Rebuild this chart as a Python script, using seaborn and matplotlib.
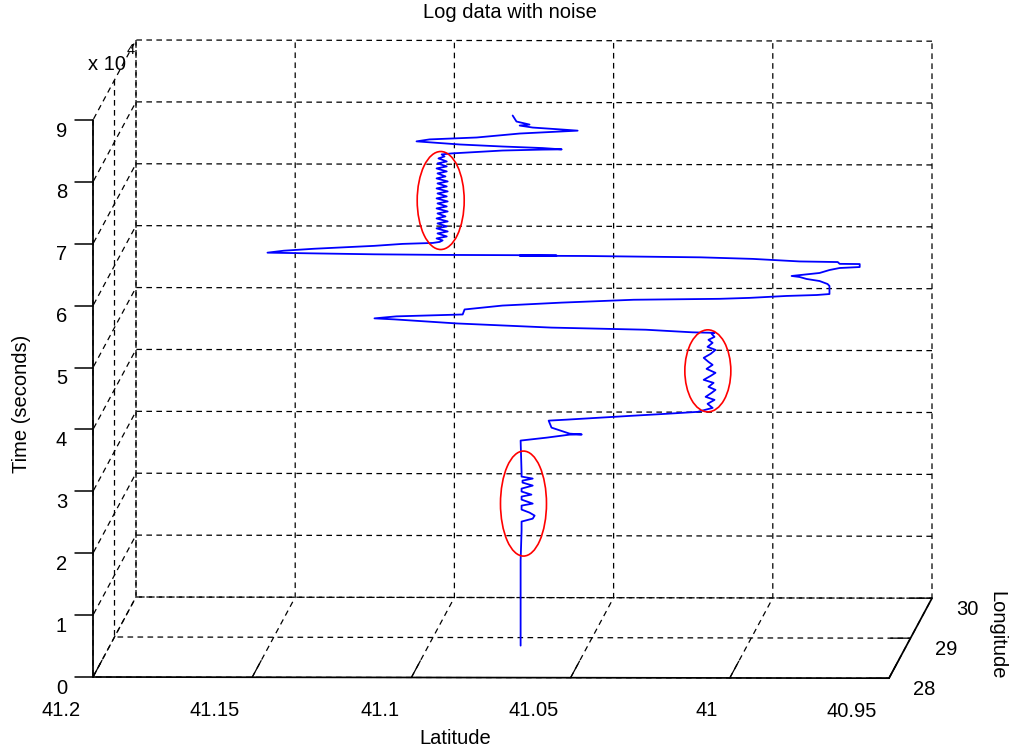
import numpy as np
import matplotlib
matplotlib.use("Agg")
import matplotlib.pyplot as plt
import matplotlib.transforms as mtransforms
from matplotlib.patches import Ellipse
from matplotlib.lines import Line2D
import seaborn as sns
from mpl_toolkits.mplot3d import proj3d

# ---------------- data ----------------
latitude = [
    41.0711, 41.0711, 41.0711, 41.0708,
    41.0708, 41.0673, 41.0667, 41.0683, 41.0708, 41.0708, 41.0673, 41.0708, 41.0708, 41.0677,
    41.0708, 41.0708, 41.0673, 41.0705, 41.0705, 41.0673, 41.0708, 41.0708,
    41.0711, 41.0629, 41.0557, 41.0519, 41.0557, 41.0614, 41.0623, 41.0567, 41.0463, 41.0359,
    41.0253, 41.0155,
    41.0108, 41.0124, 41.0102, 41.0130, 41.0111, 41.0099, 41.0121, 41.0105, 41.0136, 41.0114,
    41.0099, 41.0127, 41.0108, 41.0121, 41.0136, 41.0114, 41.0099, 41.0124, 41.0108, 41.0121,
    41.0102, 41.0111, 41.0102,
    41.0171, 41.0318, 41.0469, 41.0614, 41.0761, 41.0912, 41.1107, 41.1170,
    41.1101, 41.0893, 41.0887, 41.0768, 41.0582, 41.0356, 41.0086, 40.9992, 40.9876, 40.9781,
    40.9741,
    40.9741, 40.9747, 40.9772, 40.9813, 40.9835, 40.9860, 40.9772, 40.9741, 40.9709, 40.9646,
    40.9646, 40.9709, 40.9715, 40.9835, 40.9982, 41.0086,
    41.0146, 41.0306, 41.0463, 41.0507, 41.0714, 41.0620, 41.0598, 41.0636, 41.0683, 41.0956,
    41.1170, 41.1405, 41.1506,
    41.1455, 41.1361, 41.1170, 41.1082, 41.0987, 41.0965,
    41.0956, 41.0975, 41.0943, 41.0972, 41.0940, 41.0975, 41.0943, 41.0972, 41.0940, 41.0975,
    41.0947, 41.0972, 41.0940, 41.0975, 41.0943, 41.0972, 41.0940, 41.0975, 41.0943, 41.0972,
    41.0940, 41.0975, 41.0943, 41.0972, 41.0940, 41.0975, 41.0947, 41.0972, 41.0943, 41.0975,
    41.0943, 41.0972, 41.0943, 41.0969, 41.0950, 41.0959,
    41.0928, 41.0768, 41.0642, 41.0582, 41.0642, 41.0768, 41.0903, 41.0997, 41.1038, 41.0997,
    41.0849, 41.0714, 41.0589, 41.0532, 41.0579, 41.0673, 41.0714, 41.0683, 41.0724, 41.0736,
]
longitude = [
    28.8, 28.8, 28.8, 28.8,
    28.8, 28.8, 28.8, 28.8, 28.8, 28.8, 28.8, 28.8, 28.8, 28.8,
    28.8, 28.8, 28.8, 28.8, 28.8, 28.8, 28.8, 28.8,
    28.8, 28.8, 28.8, 28.8, 28.8, 28.8, 28.8, 28.8, 28.8, 28.8,
    28.8, 28.8,
    28.8, 28.8, 28.8, 28.8, 28.8, 28.8, 28.8, 28.8, 28.8, 28.8,
    28.8, 28.8, 28.8, 28.8, 28.8, 28.8, 28.8, 28.8, 28.8, 28.8,
    28.8, 28.8, 28.8,
    28.8, 28.8, 28.8, 28.8, 28.8, 28.8, 28.8, 28.8,
    28.8, 28.8, 28.8, 28.8, 28.8, 28.8, 28.8, 28.8, 28.8, 28.8,
    28.8,
    28.8, 28.8, 28.8, 28.8, 28.8, 28.8, 28.8, 28.8, 28.8, 28.8,
    28.8, 28.8, 28.8, 28.8, 28.8, 28.8,
    28.8, 28.8, 28.8, 28.8, 28.8, 28.8, 28.8, 28.8, 28.8, 28.8,
    28.8, 28.8, 28.8,
    28.8, 28.8, 28.8, 28.8, 28.8, 28.8,
    28.8, 28.8, 28.8, 28.8, 28.8, 28.8, 28.8, 28.8, 28.8, 28.8,
    28.8, 28.8, 28.8, 28.8, 28.8, 28.8, 28.8, 28.8, 28.8, 28.8,
    28.8, 28.8, 28.8, 28.8, 28.8, 28.8, 28.8, 28.8, 28.8, 28.8,
    28.8, 28.8, 28.8, 28.8, 28.8, 28.8,
    28.8, 28.8, 28.8, 28.8, 28.8, 28.8, 28.8, 28.8, 28.8, 28.8,
    28.8, 28.8, 28.8, 28.8, 28.8, 28.8, 28.8, 28.8, 28.8, 28.8,
]
time_s = [
    0, 7270, 13740, 18580,
    20040, 20520, 21010, 21490, 21980, 22620, 22950, 23590, 24080, 24400,
    24890, 25370, 25860, 26340, 26660, 26990, 27310, 27960,
    33130, 33610, 34100, 34130, 34260, 35230, 36360, 36520, 36850, 37170,
    37490, 37810,
    38460, 39110, 39750, 40240, 40890, 41370, 41850, 42500, 42990, 43630,
    44120, 44760, 45410, 45890, 46540, 47190, 47830, 48320, 48970, 49450,
    49930, 50420, 50580,
    50660, 51070, 51230, 51390, 51710, 52040, 52680, 52840,
    53170, 53490, 54300, 54940, 55430, 55910, 56080, 56240, 56560, 56720,
    56880,
    58180, 58500, 58980, 59310, 59630, 59790, 60280, 60760, 61090, 61250,
    61730, 61760, 62050, 62140, 62540, 62700,
    62780, 62860, 62940, 62970, 63000, 63020, 63040, 63060, 63080, 63110,
    63190, 63350, 63430,
    63750, 64070, 64560, 64880, 65040, 65210,
    65450, 65770, 66090, 66580, 66900, 67390, 67710, 68200, 68520, 69000,
    69330, 69810, 70130, 70620, 70940, 71430, 71750, 72240, 72560, 73040,
    73370, 73850, 74170, 74660, 74980, 75470, 75790, 76280, 76600, 77080,
    77410, 77890, 78210, 78700, 79020, 79350,
    79510, 79990, 80150, 80190, 80400, 80640, 80960, 81290, 81450, 81770,
    82090, 82740, 83060, 83220, 83390, 83710, 84030, 84190, 84680, 85650,
]

lat_ticks = [41.2, 41.15, 41.1, 41.05, 41.0, 40.95]
lat_tick_labels = ["41.2", "41.15", "41.1", "41.05", "41", "40.95"]
lon_ticks = [28, 29, 30]
lon_tick_labels = ["28", "29", "30"]
time_ticks = [0, 10000, 20000, 30000, 40000, 50000, 60000, 70000, 80000, 90000]
time_tick_labels = ["0", "1", "2", "3", "4", "5", "6", "7", "8", "9"]

# noisy stretches circled in red (centre of each circled stretch)
noise_lat = [41.0702, 41.0123, 41.0962]
noise_lon = [28.8, 28.8, 28.8]
noise_time = [22950, 44440, 71900]

# ---------------- style ----------------
sns.set_theme(style="white")
GRID_LS = (0, (4.5, 3.5))
plt.rcParams.update({
    "xtick.color": "black", "ytick.color": "black",
    "axes.edgecolor": "black", "text.color": "black",
    "grid.color": "black", "grid.linewidth": 0.9,
    "grid.linestyle": GRID_LS,
    "xtick.major.width": 0.9, "ytick.major.width": 0.9,
})
plt.rcParams["font.family"] = ["Liberation Sans", "DejaVu Sans"]

W_PX, H_PX = 1012, 754
fig = plt.figure(figsize=(W_PX / 100, H_PX / 100), dpi=100)
fig.patch.set_facecolor("white")
ax = fig.add_axes([0.0, 0.0, 1.0, 1.0], projection="3d", proj_type="ortho")
ax.patch.set_alpha(0)

line, = ax.plot(latitude, longitude, time_s, color=(0, 0, 1), lw=1.3)
line.set_clip_on(False)

ax.set_xlim(41.2, 40.95)
ax.set_ylim(28, 30)
ax.set_zlim(0, 90000)

# view that reproduces the near-front MATLAB camera
X_LEN, Z_LEN = 796.0, 557.0          # on-screen lengths of latitude / time edges
Y_DX, Y_DY = 43.0, 80.0               # on-screen offset of the longitude edge
elev = 3.0
se, ce = np.sin(np.deg2rad(elev)), np.cos(np.deg2rad(elev))
d = np.arctan((Y_DX / Y_DY) * se)
azim = -90.0 + np.rad2deg(d)
ax.view_init(elev=elev, azim=azim, roll=0)
sx = (X_LEN / Z_LEN) * ce / np.cos(d)
sy = (Y_DY / Z_LEN) * ce / (se * np.cos(d))
ax.set_box_aspect((sx, sy, 1.0))

ax.set_xticks(lat_ticks)
ax.set_yticks(lon_ticks)
ax.set_zticks(time_ticks)
ax.set_xticklabels([""] * len(lat_ticks))
ax.set_yticklabels([""] * len(lon_ticks))
ax.set_zticklabels([""] * len(time_ticks))

# time axis on the front-left edge (MATLAB style)
ax.zaxis.set_ticks_position("lower")

for a, outf in ((ax.xaxis, 2.6), (ax.yaxis, 0.31), (ax.zaxis, 0.0)):
    a.set_pane_color((1, 1, 1, 1))
    a._axinfo["tick"]["inward_factor"] = 0.0
    a._axinfo["tick"]["outward_factor"] = outf
    a._axinfo["tick"]["linewidth"] = {True: 0.9, False: 0.6}
    a._axinfo["axisline"]["color"] = "black"
    a._axinfo["axisline"]["linewidth"] = 1.1
    a._axinfo["grid"]["color"] = "black"
    a._axinfo["grid"]["linewidth"] = 0.9
    a._axinfo["grid"]["linestyle"] = GRID_LS


def to_disp(xs, ys, zs):
    px, py, _ = proj3d.proj_transform(np.atleast_1d(np.asarray(xs, float)),
                                      np.atleast_1d(np.asarray(ys, float)),
                                      np.atleast_1d(np.asarray(zs, float)),
                                      ax.get_proj())
    return ax.transData.transform(np.column_stack([px, py]))


# place the box: front-left-bottom corner and front-right-bottom corner
TA = (93.0, H_PX - 677.0)
TB = (889.0, H_PX - 677.0)
for _ in range(3):
    fig.canvas.draw()
    A, B = to_disp([41.2, 40.95], [28, 28], [0, 0])
    pos = ax.get_position()
    x0, y0, w, h = pos.x0 * W_PX, pos.y0 * H_PX, pos.width * W_PX, pos.height * H_PX
    cx, cy = x0 + w / 2, y0 + h / 2
    s = (TB[0] - TA[0]) / (B[0] - A[0])
    nAx, nAy = cx + s * (A[0] - cx), cy + s * (A[1] - cy)
    ncx, ncy = cx + TA[0] - nAx, cy + TA[1] - nAy
    nw, nh = w * s, h * s
    ax.set_position([(ncx - nw / 2) / W_PX, (ncy - nh / 2) / H_PX, nw / W_PX, nh / H_PX])
fig.canvas.draw()

ident = mtransforms.IdentityTransform()
FS = 14.5
ZTICK_LEN = 18

# time-axis tick marks (pointing left) and labels, MATLAB-like placement
zp = to_disp([lat_ticks[0]] * len(time_ticks), [lon_ticks[0]] * len(time_ticks), time_ticks)
for (px, py), lab in zip(zp, time_tick_labels):
    fig.lines.append(Line2D([px - ZTICK_LEN, px], [py, py], color="black", lw=1.1,
                            transform=ident, figure=fig, zorder=20))
    fig.text(px - 26, py - 11, lab, ha="right", va="center", fontsize=FS, transform=ident)
xp = to_disp(lat_ticks, [lon_ticks[0]] * len(lat_ticks), [0] * len(lat_ticks))
for (px, py), lab in zip(xp, lat_tick_labels):
    fig.text(px - 12, py - 33, lab, ha="right", va="center", fontsize=FS, transform=ident)
yp = to_disp([lat_ticks[-1]] * len(lon_ticks), lon_ticks, [0] * len(lon_ticks))
for (px, py), lab in zip(yp, lon_tick_labels):
    fig.text(px + 24, py - 11, lab, ha="left", va="center", fontsize=FS, transform=ident)

# exponent of the time axis
fig.text(88, H_PX - 64, "x 10", ha="left", va="center", fontsize=FS, transform=ident)
fig.text(127, H_PX - 50, "4", ha="left", va="center", fontsize=10.5, transform=ident)

# titles
fig.text(510, H_PX - 13, "Log data with noise", ha="center", va="center", fontsize=FS, transform=ident)
fig.text(455, H_PX - 738, "Latitude", ha="center", va="center", fontsize=FS, transform=ident)
fig.text(22, H_PX - 404, "Time (seconds)", ha="center", va="center", rotation=90,
         fontsize=FS, transform=ident)
fig.text(997, H_PX - 635, "Longitude", ha="center", va="center", rotation=-90,
         fontsize=FS, transform=ident)

# red circles round the noisy stretches
ell_sizes = [(46, 105), (46, 82), (47, 98)]
cp = to_disp(noise_lat, noise_lon, noise_time)
for (px, py), (ew, eh) in zip(cp, ell_sizes):
    fig.add_artist(Ellipse((px, py), ew, eh, transform=ident, fill=False,
                           edgecolor=(1, 0, 0), lw=1.2, zorder=10))

fig.savefig("out.png", dpi=100)
